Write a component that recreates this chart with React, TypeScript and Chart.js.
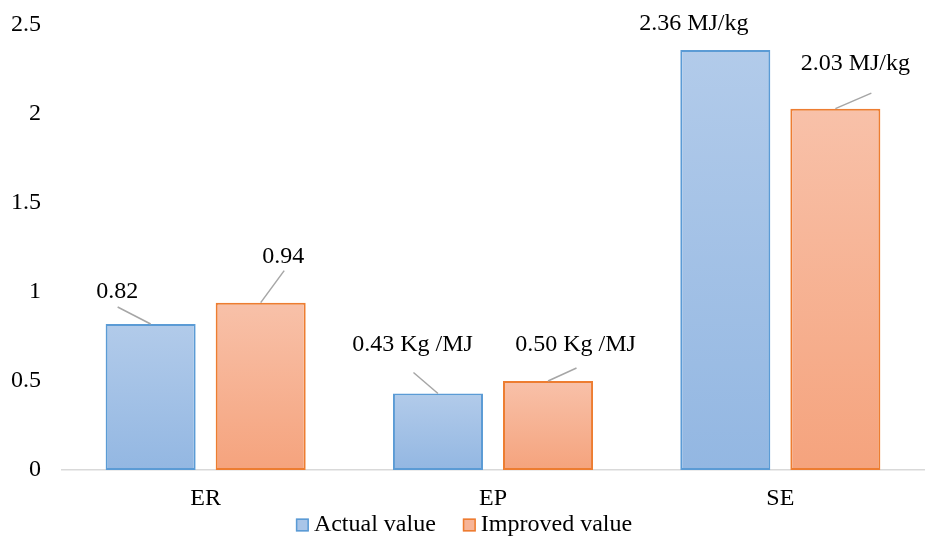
import React, { useEffect, useRef } from "react";
import { Chart, registerables } from "chart.js";

Chart.register(...registerables);

const categories = ["ER", "EP", "SE"];
const actualValues = [0.82, 0.43, 2.36];
const improvedValues = [0.94, 0.5, 2.03];
const actualLabels = ["0.82", "0.43 Kg /MJ", "2.36 MJ/kg"];
const improvedLabels = ["0.94", "0.50 Kg /MJ", "2.03 MJ/kg"];
const seriesNames = ["Actual value", "Improved value"];

// label placement (pixels relative to bar top centre): text centre, leader end
const labelPlacement = [
  [
    { tx: -33.5, ty: -32, lx: -33, ly: -17, line: true },
    { tx: -25.5, ty: -48.5, lx: -24.5, ly: -21, line: true },
    { tx: -31.5, ty: -26, lx: 0, ly: 0, line: false },
  ],
  [
    { tx: 22.5, ty: -46, lx: 23.5, ly: -32, line: true },
    { tx: 27.5, ty: -36, lx: 28.5, ly: -13, line: true },
    { tx: 20, ty: -45, lx: 36, ly: -15.5, line: true },
  ],
];

const FONT = "'Liberation Serif', 'Times New Roman', serif";
const legendFill = ["#a9c5e8", "#f7b497"];
const legendStroke = ["#5b9bd5", "#ed7d31"];

const gradientFill = (top: string, bottom: string) => (c: any) => {
  const chart = c.chart;
  const { ctx, chartArea, scales } = chart;
  if (!chartArea || c.type !== "data" || !scales.y) return top;
  const yTop = scales.y.getPixelForValue(c.raw);
  const yBot = scales.y.getPixelForValue(0);
  const g = ctx.createLinearGradient(0, yTop, 0, yBot);
  g.addColorStop(0, top);
  g.addColorStop(1, bottom);
  return g;
};

const labelPlugin = {
  id: "leaderLabels",
  afterDatasetsDraw(chart: any) {
    const ctx = chart.ctx;
    const texts = [actualLabels, improvedLabels];
    ctx.save();
    chart.data.datasets.forEach((_: any, di: number) => {
      const meta = chart.getDatasetMeta(di);
      meta.data.forEach((el: any, i: number) => {
        const p = labelPlacement[di][i];
        const x = el.x;
        const y = el.y;
        if (p.line) {
          ctx.strokeStyle = "#a6a6a6";
          ctx.lineWidth = 1.5;
          ctx.beginPath();
          ctx.moveTo(x, y);
          ctx.lineTo(x + p.lx, y + p.ly);
          ctx.stroke();
        }
        ctx.fillStyle = "#000000";
        ctx.font = `24px ${FONT}`;
        ctx.textAlign = "center";
        ctx.textBaseline = "middle";
        ctx.fillText(texts[di][i], x + p.tx, y + p.ty);
      });
    });
    ctx.restore();
  },
};

const legendPlugin = {
  id: "customLegend",
  afterDraw(chart: any) {
    const ctx = chart.ctx;
    ctx.save();
    ctx.font = `24px ${FONT}`;
    ctx.textBaseline = "middle";
    ctx.textAlign = "left";
    const box = 13;
    const gap = 5;
    const itemGap = 27;
    const widths = seriesNames.map((n) => ctx.measureText(n).width);
    const total = widths.reduce((a, w) => a + box + gap + w, 0) + itemGap;
    let x = chart.width / 2 - total / 2;
    const cy = 525;
    seriesNames.forEach((n, i) => {
      ctx.fillStyle = legendFill[i];
      ctx.strokeStyle = legendStroke[i];
      ctx.lineWidth = 1.5;
      ctx.fillRect(x, cy - box / 2, box, box);
      ctx.strokeRect(x + 0.75, cy - box / 2 + 0.75, box - 1.5, box - 1.5);
      ctx.fillStyle = "#000000";
      ctx.fillText(n, x + box + gap, cy);
      x += box + gap + widths[i] + itemGap;
    });
    ctx.restore();
  },
};

export default function App() {
  const ref = useRef<HTMLCanvasElement | null>(null);

  useEffect(() => {
    document.body.style.margin = "0";
    const canvas = ref.current;
    if (!canvas) return;
    const chart = new Chart(canvas, {
      type: "bar",
      data: {
        labels: categories,
        datasets: [
          {
            label: seriesNames[0],
            data: actualValues,
            backgroundColor: gradientFill("#b2cbea", "#93b7e2"),
            borderColor: "#5b9bd5",
            borderWidth: 2,
            borderSkipped: false,
            categoryPercentage: 0.766,
            barPercentage: 0.818,
          },
          {
            label: seriesNames[1],
            data: improvedValues,
            backgroundColor: gradientFill("#f8c1a9", "#f5a37d"),
            borderColor: "#ed7d31",
            borderWidth: 2,
            borderSkipped: false,
            categoryPercentage: 0.766,
            barPercentage: 0.818,
          },
        ],
      },
      options: {
        animation: false,
        responsive: false,
        maintainAspectRatio: false,
        devicePixelRatio: 1,
        layout: { padding: { top: 25, right: 4, bottom: 29, left: 0 } },
        plugins: {
          tooltip: { enabled: false },
          legend: { display: false },
        },
        scales: {
          x: {
            grid: { display: false, drawTicks: false },
            border: { display: true, color: "#d9d9d9", width: 1.5 },
            ticks: {
              font: { family: FONT, size: 24 },
              color: "#000000",
              padding: 14,
            },
            afterFit: (s: any) => {
              s.height = 38;
              s.paddingLeft = 0;
              s.paddingRight = 0;
            },
          },
          y: {
            min: 0,
            max: 2.5,
            grid: { display: false, drawTicks: false },
            border: { display: false },
            ticks: {
              stepSize: 0.5,
              font: { family: FONT, size: 24 },
              color: "#000000",
              padding: 21,
              callback: (v: any) => String(Number(v)),
            },
            afterFit: (s: any) => {
              s.width = 62;
              s.paddingTop = 0;
              s.paddingBottom = 0;
            },
          },
        },
      },
      plugins: [labelPlugin, legendPlugin],
    });
    return () => chart.destroy();
  }, []);

  return (
    <div style={{ position: "absolute", left: 0, top: 0, width: 928, height: 537 }}>
      <canvas ref={ref} width={928} height={537} style={{ width: 928, height: 537 }} />
    </div>
  );
}
